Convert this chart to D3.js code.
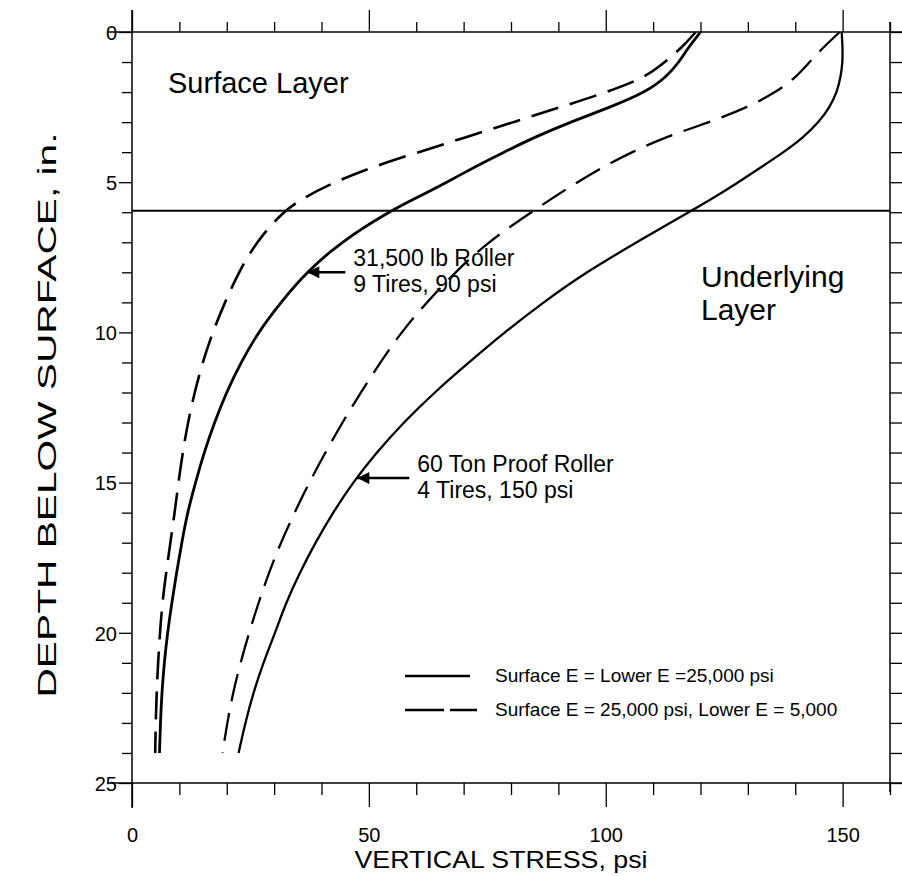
<!DOCTYPE html>
<html>
<head>
<meta charset="utf-8">
<script src="https://cdn.jsdelivr.net/npm/d3@7"></script>
<style>
  body { margin: 0; background: #fff; }
  text { font-family: "Liberation Sans", Arial, sans-serif; fill: #000; }
</style>
</head>
<body>
<svg id="chart" width="902" height="876"></svg>
<script>
// depth below surface (in.)
const depths = [0, 0.5, 1, 1.5, 2, 2.5, 3, 3.5, 4, 4.5, 5, 5.5, 6, 7, 8, 9, 10, 11, 12, 13, 14, 15, 16, 17, 18, 19, 20, 21, 22, 23, 24];

// vertical stress, psi
const roller31Equal = [120, 117.5, 115.5, 112.8, 108.5, 101, 92.5, 85, 78.5, 72.2, 66.5, 60.3, 54, 44, 36.8, 31.4, 26.6, 23, 19.9, 17.4, 15.2, 13.4, 11.7, 10.5, 9.4, 8.4, 7.5, 6.8, 6.3, 6.0, 5.8];
const roller31Soft  = [119, 116.2, 112.5, 108.5, 100.3, 90.5, 80.5, 70.5, 60.5, 50.6, 42.7, 36.4, 31.7, 26.2, 22.5, 19.6, 17, 14.9, 13.2, 11.8, 10.7, 9.8, 9.0, 8.1, 7.2, 6.4, 5.9, 5.5, 5.2, 5.0, 4.9];
const proof60Soft   = [149.4, 146, 143, 140.2, 136, 130, 122, 112.5, 105.5, 99.3, 94, 89, 84.3, 75, 68.2, 62.2, 56.8, 52.4, 48.3, 44.4, 40.8, 37.4, 34.3, 31.4, 28.9, 26.7, 24.7, 22.9, 21.3, 20.1, 19.1];
const proof60Equal  = [149.8, 150, 150, 149.6, 148.8, 147.3, 145, 141.8, 137.6, 132.8, 128, 123, 117.5, 106.5, 95.8, 86.8, 78.6, 71.1, 63.8, 57.3, 51.6, 46.6, 42.4, 38.7, 35.4, 32.5, 30.2, 27.7, 25.6, 23.9, 22.5];

const layerDepth = 5.95;
const xMajor = [0, 50, 100, 150];
const yMajor = [0, 5, 10, 15, 20, 25];

const legendLabels = ["Surface E = Lower E =25,000 psi", "Surface E = 25,000 psi, Lower E = 5,000"];

const svg = d3.select("#chart");

const x = d3.scaleLinear().domain([0, 160]).range([132, 890]);
const y = d3.scaleLinear().domain([0, 25]).range([32, 783]);

// frame lines (extended like the original)
svg.append("line").attr("x1", 108).attr("x2", 902).attr("y1", y(0)).attr("y2", y(0)).attr("stroke", "#000").attr("stroke-width", 1.5);
svg.append("line").attr("x1", 110).attr("x2", 902).attr("y1", y(25)).attr("y2", y(25)).attr("stroke", "#000").attr("stroke-width", 1.5);
svg.append("line").attr("x1", x(0)).attr("x2", x(0)).attr("y1", 10).attr("y2", 808).attr("stroke", "#000").attr("stroke-width", 1.5);
svg.append("line").attr("x1", x(160)).attr("x2", x(160)).attr("y1", 22).attr("y2", 792).attr("stroke", "#000").attr("stroke-width", 1.5);

const xTicks = d3.range(0, 161, 10);
const yTicks = d3.range(0, 26, 1);

// top axis
svg.append("g").attr("transform", `translate(0,${y(0)})`)
  .call(d3.axisTop(x).tickValues(xTicks).tickFormat("").tickSizeOuter(0))
  .call(g => g.select(".domain").remove())
  .call(g => g.selectAll(".tick line").attr("y2", d => xMajor.includes(d) ? -22 : -10).attr("stroke-width", 1.3));

// bottom axis
svg.append("g").attr("transform", `translate(0,${y(25)})`)
  .call(d3.axisBottom(x).tickValues(xTicks).tickSizeOuter(0)
    .tickFormat(d => xMajor.includes(d) ? d : ""))
  .call(g => g.select(".domain").remove())
  .call(g => g.selectAll(".tick line").attr("y2", d => xMajor.includes(d) ? 24 : 12).attr("stroke-width", 1.3))
  .call(g => g.selectAll(".tick text").attr("y", 59).attr("dy", 0)
    .style("font-size", "20px").style("font-family", "Liberation Sans"));

// left axis
svg.append("g").attr("transform", `translate(${x(0)},0)`)
  .call(d3.axisLeft(y).tickValues(yTicks).tickSizeOuter(0)
    .tickFormat(d => yMajor.includes(d) ? d : ""))
  .call(g => g.select(".domain").remove())
  .call(g => g.selectAll(".tick line").attr("x2", d => yMajor.includes(d) ? -13 : -10).attr("stroke-width", 1.3))
  .call(g => g.selectAll(".tick text").attr("x", -15).attr("dy", "0.36em")
    .style("font-size", "20px").style("font-family", "Liberation Sans"));

// right axis
svg.append("g").attr("transform", `translate(${x(160)},0)`)
  .call(d3.axisRight(y).tickValues(yTicks).tickFormat("").tickSizeOuter(0))
  .call(g => g.select(".domain").remove())
  .call(g => g.selectAll(".tick line").attr("x2", 12).attr("stroke-width", 1.3));

// layer boundary
svg.append("line")
  .attr("x1", x(0)).attr("x2", x(160))
  .attr("y1", y(layerDepth)).attr("y2", y(layerDepth))
  .attr("stroke", "#000").attr("stroke-width", 2.2);

// curves
const line = d3.line()
  .x(d => x(d[0]))
  .y(d => y(d[1]))
  .curve(d3.curveBasis);

const series = [
  { values: roller31Equal, dash: null, width: 2.8 },
  { values: roller31Soft, dash: "28,12", width: 2.6 },
  { values: proof60Soft, dash: "28,12", width: 2.3 },
  { values: proof60Equal, dash: null, width: 2.3 }
];

svg.selectAll("path.curve")
  .data(series)
  .join("path")
  .attr("class", "curve")
  .attr("d", s => line(s.values.map((v, i) => [v, depths[i]])))
  .attr("fill", "none")
  .attr("stroke", "#000")
  .attr("stroke-width", s => s.width)
  .attr("stroke-dasharray", s => s.dash);

// arrow heads
svg.append("defs").append("marker")
  .attr("id", "arrow")
  .attr("viewBox", "0 0 10 10")
  .attr("refX", 10).attr("refY", 5)
  .attr("markerUnits", "userSpaceOnUse")
  .attr("markerWidth", 20).attr("markerHeight", 12)
  .attr("orient", "auto")
  .append("path").attr("d", "M0,0 L10,5 L0,10 Z").attr("fill", "#000");

const valueAt = (vals, dep) => d3.scaleLinear().domain(depths).range(vals)(dep);

const notes = [
  { vals: roller31Equal, depth: 8, len: 38, lines: ["31,500 lb Roller", "9 Tires, 90 psi"] },
  { vals: proof60Equal, depth: 14.85, len: 52, lines: ["60 Ton Proof Roller", "4 Tires, 150 psi"] }
];

notes.forEach(n => {
  const tipX = x(valueAt(n.vals, n.depth)) + 1;
  const yy = y(n.depth);
  svg.append("line")
    .attr("x1", tipX + n.len).attr("x2", tipX)
    .attr("y1", yy).attr("y2", yy)
    .attr("stroke", "#000").attr("stroke-width", 2.5)
    .attr("marker-end", "url(#arrow)");
  svg.append("text")
    .attr("x", tipX + n.len + 8).attr("y", yy - 6)
    .style("font-size", "23px")
    .selectAll("tspan")
    .data(n.lines)
    .join("tspan")
    .attr("x", tipX + n.len + 8)
    .attr("dy", (d, i) => i === 0 ? 0 : 26)
    .text(d => d);
});

// layer labels
svg.append("text").attr("x", 168).attr("y", 93).style("font-size", "29px").text("Surface Layer");
svg.append("text").attr("x", 701).attr("y", 287).style("font-size", "30px").text("Underlying");
svg.append("text").attr("x", 701).attr("y", 320).style("font-size", "30px").text("Layer");

// legend
const legend = svg.append("g");
legendLabels.forEach((lab, i) => {
  const ly = 676 + i * 34;
  legend.append("line")
    .attr("x1", 405).attr("y1", ly).attr("y2", ly)
    .attr("x2", i === 0 ? 470 : 477)
    .attr("stroke", "#000").attr("stroke-width", 2.4)
    .attr("stroke-dasharray", i === 0 ? null : "39,6");
  legend.append("text")
    .attr("x", 495).attr("y", ly + 6)
    .style("font-size", "19px")
    .text(lab);
});

// axis titles
svg.append("text")
  .attr("x", 501).attr("y", 868)
  .attr("text-anchor", "middle")
  .attr("textLength", 293).attr("lengthAdjust", "spacingAndGlyphs")
  .style("font-size", "24px")
  .text("VERTICAL STRESS, psi");

svg.append("text")
  .attr("transform", "translate(56,415) rotate(-90)")
  .attr("text-anchor", "middle")
  .attr("textLength", 565).attr("lengthAdjust", "spacingAndGlyphs")
  .style("font-size", "26px")
  .text("DEPTH BELOW SURFACE, in.");
</script>
</body>
</html>
